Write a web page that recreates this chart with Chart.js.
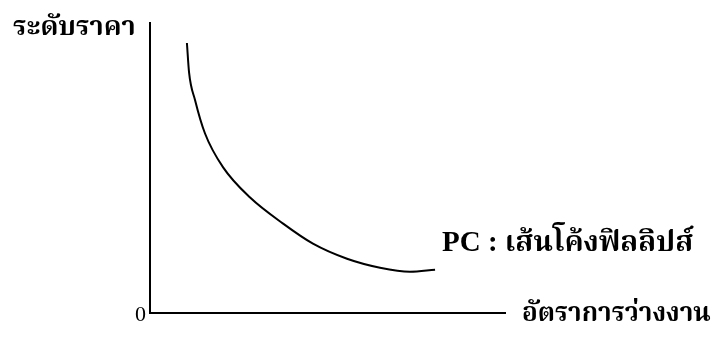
<!DOCTYPE html>
<html lang="th">
<head>
  <meta charset="UTF-8">
  <title>เส้นโค้งฟิลลิปส์</title>
  <style>
    html, body { margin: 0; padding: 0; background: #fff; }
    #wrap { width: 714px; height: 340px; position: relative; }
  </style>
  <script src="https://cdn.jsdelivr.net/npm/chart.js"></script>
</head>
<body>
  <div id="wrap"><canvas id="grafico"></canvas></div>
  <script>
    // อัตราการว่างงาน (แกนนอน) และ ระดับราคา (แกนตั้ง) ของเส้น PC
    const unemployment = [10.4, 11.0, 12.7, 15.5, 20.6, 28.2, 37.5, 45.9, 55.5, 64.8, 73.2, 80.3];
    const priceLevel = [93.1, 83.0, 73.4, 61.9, 50.2, 39.8, 30.8, 23.9, 18.7, 15.6, 14.2, 14.9];
    const yTitle = 'ระดับราคา';
    const xTitle = 'อัตราการว่างงาน';
    const curveLabel = 'PC : เส้นโค้งฟิลลิปส์';
    const originLabel = '0';

    const serif = '"Liberation Serif", "Noto Serif Thai", "Noto Sans Thai", serif';

    // ป้ายข้อความรอบแกน
    const labelsPlugin = {
      id: 'labels',
      afterDraw(chart) {
        const { ctx } = chart;
        ctx.save();
        ctx.fillStyle = '#000';
        ctx.textBaseline = 'middle';
        ctx.textAlign = 'left';
        ctx.font = 'bold 27px ' + serif;
        ctx.fillText(yTitle, 13, 28);
        ctx.font = 'bold 26px ' + serif;
        ctx.fillText(xTitle, 522, 314);
        ctx.font = 'bold 29px ' + serif;
        ctx.fillText(curveLabel, 442, 244);
        ctx.font = '22px ' + serif;
        ctx.textAlign = 'right';
        ctx.fillText(originLabel, 146, 315);
        ctx.restore();
      }
    };

    const points = unemployment.map((x, i) => ({ x: x, y: priceLevel[i] }));

    new Chart(document.getElementById('grafico'), {
      type: 'line',
      data: {
        datasets: [{
          data: points,
          borderColor: '#000',
          borderWidth: 2,
          pointRadius: 0,
          fill: false,
          cubicInterpolationMode: 'monotone'
        }]
      },
      options: {
        responsive: true,
        maintainAspectRatio: false,
        animation: false,
        layout: { padding: { left: 142, top: 23, right: 209, bottom: 19 } },
        plugins: { legend: { display: false }, tooltip: { enabled: false } },
        scales: {
          x: {
            type: 'linear', min: 0, max: 100,
            grid: { display: false },
            ticks: { display: false },
            border: { display: true, color: '#000', width: 2 }
          },
          y: {
            type: 'linear', min: 0, max: 100,
            grid: { display: false },
            ticks: { display: false },
            border: { display: true, color: '#000', width: 2 }
          }
        }
      },
      plugins: [labelsPlugin]
    });
  </script>
</body>
</html>
